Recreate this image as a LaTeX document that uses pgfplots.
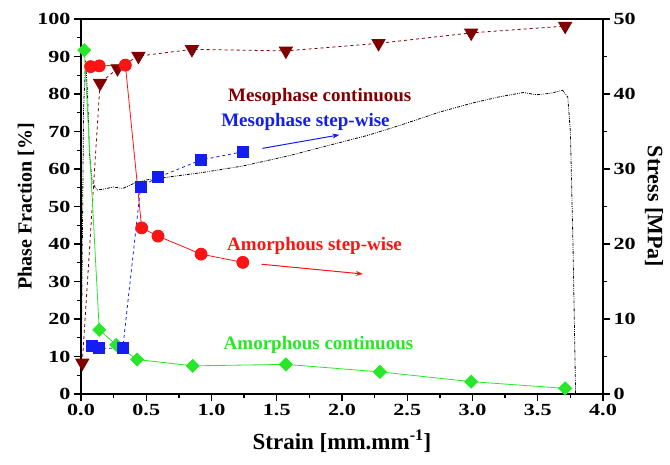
\documentclass[border=0pt]{standalone}
\usepackage{fontspec}
\setmainfont{Liberation Serif}
\newfontfamily\tickfont{Liberation Serif}[FakeStretch=1.3]
\usepackage{pgfplots}
\pgfplotsset{compat=1.18}
\usetikzlibrary{arrows.meta}
\definecolor{mesoc}{RGB}{128,0,0}
\definecolor{amos}{RGB}{250,20,20}
\definecolor{mesos}{RGB}{20,30,240}
\definecolor{amoc}{RGB}{40,230,40}
\begin{document}
\begin{tikzpicture}
\path[use as bounding box] (-81pt,-70pt) rectangle (589pt,394pt);
\pgfplotsset{
  common/.style={width=522pt,height=375pt,scale only axis,xmin=0,xmax=4,
    at={(0,0)}, anchor=south west,
    /pgf/number format/assume math mode=true,
    tick label style={font=\tickfont\fontsize{17}{17}\selectfont\bfseries},
    label style={font=\fontsize{22}{24}\selectfont\bfseries},
    axis line style={line width=1.6pt},
    major tick length=7pt, minor tick length=4pt,
    every tick/.style={black,line width=1.3pt},
    tick align=outside}
}
% stress axis (right)
\begin{axis}[common, axis y line*=right, axis x line=none,
  ymin=0, ymax=50, ytick={0,10,...,50}, minor y tick num=1,
  ylabel={Stress [MPa]},
  ylabel style={at={(axis description cs:1.098,0.5)}, anchor=center, rotate=180}]
\addplot[black, line width=0.8pt, dash pattern=on 3pt off 1.2pt on 0.8pt off 1.2pt on 0.8pt off 1.2pt] coordinates {
(0,0) (0.01,20) (0.02,38) (0.035,44.5) (0.05,40) (0.065,32) (0.085,28.3) (0.12,27.2) (0.17,27.3) (0.25,27.6) (0.32,27.4) (0.42,28.2) (0.52,28.6) (0.7,29.0) (0.92,29.5) (1.24,30.4) (1.6,31.8) (1.91,33.2) (2.2,34.5) (2.44,35.8) (2.75,37.6) (3.0,38.8) (3.2,39.6) (3.39,40.2) (3.49,39.9) (3.6,40.1) (3.69,40.5) (3.73,39.6) (3.75,35) (3.77,20) (3.785,5) (3.79,0)
};
\end{axis}
% phase fraction axis (left)
\begin{axis}[common, ymin=0, ymax=100, ytick={0,10,...,100}, minor y tick num=1,
  xtick={0,0.5,...,4}, minor x tick num=1, ytick pos=left, xtick pos=bottom,
  xticklabel style={/pgf/number format/.cd,fixed,fixed zerofill,precision=1},
  xlabel={Strain [mm.mm\textsuperscript{-1}]}, ylabel={Phase Fraction [\%]},
  xlabel style={font=\fontsize{23}{24}\selectfont\bfseries,
    at={(axis description cs:0.5,-0.1253)}, anchor=center},
  ylabel style={font=\fontsize{20}{22}\selectfont\bfseries,
    at={(axis description cs:-0.1054,0.5)}, anchor=center}]
% Mesophase continuous
\addplot[mesoc, line width=0.8pt, dashed, mark=triangle*, mark size=7.5pt,
  mark options={solid, rotate=180, fill=mesoc}] coordinates {
(0.01,8.3) (0.146,82.9) (0.28,86.8) (0.44,90.1) (0.85,91.9) (1.57,91.5) (2.28,93.5) (2.99,96.3) (3.71,98.1)
};
% Amorphous continuous
\addplot[amoc, line width=0.8pt, mark=square*, mark size=4.6pt,
  mark options={rotate=45, fill=amoc}] coordinates {
(0.025,91.7) (0.14,17.1) (0.27,13.1) (0.43,9.2) (0.856,7.5) (1.57,7.9) (2.29,5.9) (2.99,3.3) (3.71,1.5)
};
% Amorphous step-wise
\addplot[amos, line width=0.8pt, mark=*, mark size=6pt,
  mark options={fill=amos}] coordinates {
(0.074,87.3) (0.14,87.5) (0.34,87.7) (0.465,44.3) (0.59,42.1) (0.92,37.3) (1.24,35.1)
};
% Mesophase step-wise
\addplot[mesos, line width=0.8pt, dashed, mark=square*, mark size=5.5pt,
  mark options={solid, fill=mesos}] coordinates {
(0.08,12.8) (0.14,12.2) (0.32,12.2) (0.457,55.3) (0.59,57.8) (0.92,62.4) (1.24,64.6)
};
\node[text=mesoc, font=\fontsize{19}{20}\selectfont\bfseries] at (axis cs:1.83,79.2) {Mesophase continuous};
\node[text=mesos, font=\fontsize{19}{20}\selectfont\bfseries] at (axis cs:1.72,72.5) {Mesophase step-wise};
\node[text=amos, font=\fontsize{19}{20}\selectfont\bfseries] at (axis cs:1.79,39.5) {Amorphous step-wise};
\node[text=amoc, font=\fontsize{19}{20}\selectfont\bfseries] at (axis cs:1.82,13.1) {Amorphous continuous};
\draw[mesos, line width=1pt, -{Stealth[length=7pt,width=5pt]}] (axis cs:1.39,65.5) -- (axis cs:1.98,69.1);
\draw[amos, line width=1pt, -{Stealth[length=7pt,width=5pt]}] (axis cs:1.385,34.6) -- (axis cs:2.16,32);
\end{axis}
\end{tikzpicture}
\end{document}
